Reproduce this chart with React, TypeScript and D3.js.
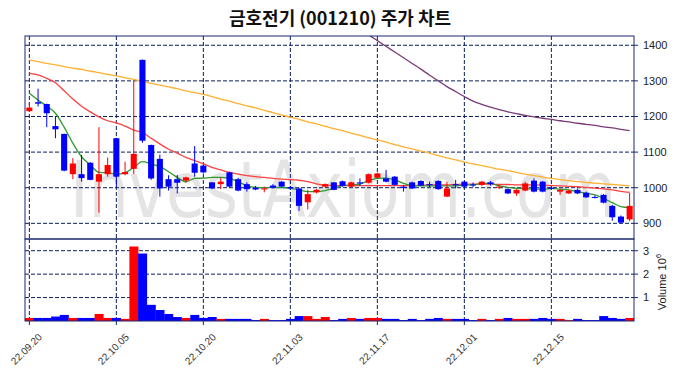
import React from "react";
import * as d3 from "d3";

const dates = [
  "22.09.20","22.09.21","22.09.22","22.09.23","22.09.26","22.09.27","22.09.28","22.09.29","22.09.30","22.10.04",
  "22.10.05","22.10.06","22.10.07","22.10.11","22.10.12","22.10.13","22.10.14","22.10.17","22.10.18","22.10.19",
  "22.10.20","22.10.21","22.10.24","22.10.25","22.10.26","22.10.27","22.10.28","22.10.31","22.11.01","22.11.02",
  "22.11.03","22.11.04","22.11.07","22.11.08","22.11.09","22.11.10","22.11.11","22.11.14","22.11.15","22.11.16",
  "22.11.17","22.11.18","22.11.21","22.11.22","22.11.23","22.11.24","22.11.25","22.11.28","22.11.29","22.11.30",
  "22.12.01","22.12.02","22.12.05","22.12.06","22.12.07","22.12.08","22.12.09","22.12.12","22.12.13","22.12.14",
  "22.12.15","22.12.16","22.12.19","22.12.20","22.12.21","22.12.22","22.12.23","22.12.26","22.12.27","22.12.28",
];
const open = [1215,1240,1235,1173,1151,1038,1038,1070,1017,1038,1139,1038,1053,1359,1120,1081,1024,1024,1020,1068,1062,1015,1010,1043,1024,1010,1000,996,1006,1017,1002,998,959,987,1003,1015,1018,1003,1015,1014,1028,1026,1031,1003,1015,1019,1010,1019,975,1010,1017,1009,1008,1015,1001,996,984,992,1020,1017,1000,989,984,994,986,974,980,949,919,911];
const high = [1240,1278,1236,1201,1152,1083,1092,1072,1170,1085,1140,1073,1300,1360,1121,1093,1035,1036,1031,1117,1064,1016,1028,1045,1028,1015,1005,1003,1010,1019,1005,1000,994,997,1012,1016,1020,1017,1026,1040,1042,1050,1033,1008,1017,1021,1017,1021,1017,1022,1019,1015,1019,1019,1008,998,996,1017,1026,1019,1003,996,994,998,989,978,982,952,922,985];
const low = [1213,1228,1170,1139,1046,1024,1017,1021,930,1031,1003,1035,1038,1126,1022,975,992,984,1014,1031,1040,996,996,1000,990,989,993,987,998,1001,995,935,939,984,1000,993,1003,1000,1005,1012,1026,1015,1006,989,996,1004,1002,994,974,998,1001,1002,1005,1006,996,982,977,990,987,987,994,980,983,982,971,970,956,907,900,906];
const close = [1225,1236,1209,1164,1048,1068,1027,1022,1038,1064,1031,1044,1095,1132,1026,998,1003,1014,1029,1042,1043,998,1017,1003,992,996,995,998,1000,1003,998,949,982,994,1010,994,1005,1015,1012,1038,1040,1017,1008,999,998,1006,1007,996,998,1007,1003,1007,1017,1010,1003,984,994,1012,989,989,997,994,992,984,973,972,958,917,902,949];
const volume = [130000,130000,130000,190000,260000,130000,130000,130000,300000,130000,130000,90000,3180000,2880000,690000,470000,300000,170000,130000,260000,130000,170000,90000,90000,90000,90000,40000,90000,40000,40000,90000,210000,210000,90000,170000,40000,90000,130000,90000,130000,130000,90000,90000,40000,90000,40000,90000,130000,90000,90000,90000,40000,90000,40000,90000,130000,90000,90000,90000,130000,90000,90000,40000,90000,40000,40000,210000,130000,90000,130000];
const ma5 = [1265,1246,1229,1209,1170,1125,1087,1064,1043,1042,1038,1042,1057,1073,1067,1059,1045,1029,1017,1026,1027,1029,1029,1026,1017,1006,1001,1000,1001,1000,998,994,989,989,992,998,1006,1008,1010,1020,1026,1027,1022,1012,1006,1005,1005,1005,1005,1005,1008,1008,1012,1012,1005,1001,998,998,996,996,998,996,994,989,984,980,970,958,947,944];
const ma20 = [1321,1317,1307,1295,1272,1249,1229,1213,1199,1188,1182,1173,1162,1155,1139,1123,1108,1097,1085,1076,1067,1057,1050,1043,1038,1034,1031,1029,1026,1024,1023,1021,1017,1011,1007,1006,1006,1006,1006,1006,1006,1006,1006,1006,1006,1007,1008,1008,1008,1009,1010,1010,1010,1010,1009,1009,1008,1008,1008,1007,1006,1005,1004,1003,1001,999,997,994,990,987];
const ma60 = [1358,1354,1349,1345,1340,1336,1332,1327,1323,1318,1314,1309,1304,1299,1293,1288,1283,1278,1272,1267,1262,1256,1249,1243,1236,1230,1224,1217,1211,1204,1198,1192,1185,1179,1172,1166,1160,1153,1147,1140,1134,1128,1121,1115,1109,1103,1097,1090,1084,1078,1072,1067,1062,1057,1052,1048,1043,1038,1034,1030,1026,1023,1020,1017,1015,1013,1011,1009,1007,1005];
const ma120: (number | null)[] = [null,null,null,null,null,null,null,null,null,null,null,null,null,null,null,null,null,null,null,null,null,null,null,null,null,null,null,null,null,null,null,null,null,null,null,null,null,null,1444,1429,1413,1397,1381,1365,1349,1333,1316,1300,1284,1270,1256,1243,1234,1226,1219,1213,1208,1203,1199,1195,1192,1188,1185,1181,1178,1175,1171,1168,1164,1160];
const priceTicks = [900, 1000, 1100, 1200, 1300, 1400];
const volumeTicks = [1, 2, 3];
const dateTickLabels = ["22.09.20","22.10.05","22.10.20","22.11.03","22.11.17","22.12.01","22.12.15"];

const W = 680, H = 378;
const L = 25, R = 634;
const PT = 36, PB = 239, VT = 239, VB = 321;
const UP = "#ff0000", DOWN = "#0000ff";
const GRID = "#0a1f5c";
const FRAME = "#1a2870";

export default function App() {
  const x = d3.scaleBand<string>().domain(dates).range([L, R]).padding(0);
  const bw = x.bandwidth();
  const cx = (i: number) => (x(dates[i]) as number) + bw / 2;
  const y = d3.scaleLinear().domain([856, 1426]).range([PB, PT]);
  const yv = d3.scaleLinear().domain([0, 3.5e6]).range([VB, VT]);

  const mkLine = (arr: (number | null)[]) =>
    d3.line<number | null>()
      .defined((d) => d !== null)
      .x((_, i) => cx(i))
      .y((d) => y(d as number))
      .curve(d3.curveMonotoneX)(arr) || "";

  const candleW = bw * 0.7;
  const font = "'Liberation Sans', Arial, sans-serif";

  return (
    <svg width={W} height={H} style={{ position: "absolute", left: 0, top: 0, background: "#fff" }} fontFamily={font}>
      <defs>
        <clipPath id="pclip"><rect x={L} y={PT} width={R - L} height={PB - PT} /></clipPath>
        <clipPath id="vclip"><rect x={L} y={VT} width={R - L} height={VB - VT} /></clipPath>
      </defs>
      <rect x={0} y={0} width={W} height={H} fill="#fff" />
      <text x={340} y={25} textAnchor="middle" fontSize={18} fontWeight="bold" fontFamily="'Noto Sans CJK KR', sans-serif" fill="#111">
        금호전기 (001210) 주가 차트
      </text>

      {/* watermark */}
      <text transform="translate(70,217) scale(1,1.24)" x={0} y={0} fontSize={63} fill="#e4e4e4"
        textLength={546} lengthAdjust="spacingAndGlyphs" fontFamily="'DejaVu Sans', sans-serif">
        InvestAxiom.com
      </text>

      {/* price grid */}
      {priceTicks.map((t) => (
        <line key={"pg" + t} x1={L} x2={R} y1={y(t)} y2={y(t)} stroke={GRID} strokeWidth={1} strokeDasharray="4,2" />
      ))}
      {dateTickLabels.map((d) => (
        <g key={"vg" + d}>
          <line x1={cx(dates.indexOf(d))} x2={cx(dates.indexOf(d))} y1={PT} y2={PB} stroke={GRID} strokeDasharray="4,2" />
          <line x1={cx(dates.indexOf(d))} x2={cx(dates.indexOf(d))} y1={VT} y2={VB} stroke={GRID} strokeDasharray="4,2" />
        </g>
      ))}
      {volumeTicks.map((t) => (
        <line key={"vgl" + t} x1={L} x2={R} y1={yv(t * 1e6)} y2={yv(t * 1e6)} stroke={GRID} strokeDasharray="4,2" />
      ))}

      {/* moving averages */}
      <g clipPath="url(#pclip)" fill="none" strokeWidth={1.3}>
        <path d={mkLine(ma120)} stroke="#7a3a78" />
        <path d={mkLine(ma60)} stroke="#ffb030" />
        <path d={mkLine(ma20)} stroke="#ff4040" />
        <path d={mkLine(ma5)} stroke="#2e9a2e" />
      </g>

      {/* candles */}
      <g clipPath="url(#pclip)">
        {dates.map((d, i) => {
          const up = close[i] >= open[i];
          const col = up ? UP : DOWN;
          const top = y(Math.max(open[i], close[i]));
          const bot = y(Math.min(open[i], close[i]));
          return (
            <g key={"c" + i}>
              <line x1={cx(i)} x2={cx(i)} y1={y(high[i])} y2={y(low[i])} stroke={col} strokeWidth={1} />
              <rect x={cx(i) - candleW / 2} y={top} width={candleW} height={Math.max(1, bot - top)} fill={col} />
            </g>
          );
        })}
      </g>

      {/* volume bars */}
      <g clipPath="url(#vclip)">
        {dates.map((d, i) => (
          <rect key={"v" + i} x={x(d) as number} y={yv(volume[i])} width={bw + 0.3} height={VB - yv(volume[i])}
            fill={close[i] >= open[i] ? UP : DOWN} />
        ))}
      </g>

      {/* frames */}
      <rect x={L} y={PT} width={R - L} height={PB - PT} fill="none" stroke={FRAME} strokeWidth={1} />
      <rect x={L} y={VT} width={R - L} height={VB - VT} fill="none" stroke={FRAME} strokeWidth={1} />

      {/* right price axis */}
      {priceTicks.map((t) => (
        <g key={"pt" + t}>
          <line x1={R} x2={R + 4} y1={y(t)} y2={y(t)} stroke={FRAME} />
          <text x={R + 9} y={y(t)} dy="0.35em" fontSize={11} fill="#222">{t}</text>
        </g>
      ))}
      {volumeTicks.map((t) => (
        <g key={"vt" + t}>
          <line x1={R} x2={R + 4} y1={yv(t * 1e6)} y2={yv(t * 1e6)} stroke={FRAME} />
          <text x={R + 9} y={yv(t * 1e6)} dy="0.35em" fontSize={11} fill="#222">{t}</text>
        </g>
      ))}
      <text transform={`translate(666, 282) rotate(-90)`} textAnchor="middle" fontSize={11} fill="#222">
        Volume  10<tspan dy="-5" fontSize={8}>6</tspan>
      </text>

      {/* x axis */}
      {dateTickLabels.map((d) => {
        const px = cx(dates.indexOf(d));
        return (
          <g key={"xt" + d}>
            <line x1={px} x2={px} y1={VB} y2={VB + 4} stroke={FRAME} />
            <text transform={`translate(${px - 3}, ${349}) rotate(-45)`} textAnchor="middle" dominantBaseline="central" fontSize={10} fill="#333">{d}</text>
          </g>
        );
      })}
    </svg>
  );
}
